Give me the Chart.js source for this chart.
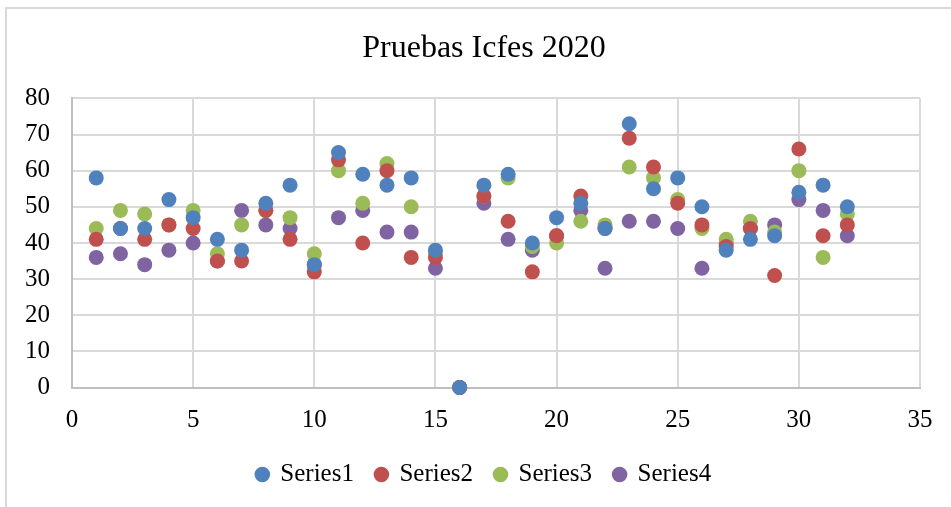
<!DOCTYPE html>
<html>
<head>
<meta charset="utf-8">
<script src="https://cdn.jsdelivr.net/npm/chart.js@4.4.1/dist/chart.umd.min.js"></script>
<style>
  html, body { margin: 0; padding: 0; background: #fff; }
  #wrap { position: relative; width: 951px; height: 507px; overflow: hidden; }
  #frame { position: absolute; left: 5px; top: 7px; width: 960px; height: 520px; border: 2px solid #d9d9d9; box-sizing: border-box; }
  canvas { position: absolute; left: 0; top: 0; }
</style>
</head>
<body>
<div id="wrap">
  <div id="frame"></div>
  <canvas id="c" width="951" height="507"></canvas>
</div>
<script>
const title = "Pruebas Icfes 2020";
const xValues = [1,2,3,4,5,6,7,8,9,10,11,12,13,14,15,16,17,18,19,20,21,22,23,24,25,26,27,28,29,30,31,32];
const series1 = [58,44,44,52,47,41,38,51,56,34,65,59,56,58,38,0,56,59,40,47,51,44,73,55,58,50,38,41,42,54,56,50];
const series2 = [41,44,41,45,44,35,35,49,41,32,63,40,60,36,36,0,53,46,32,42,53,44,69,61,51,45,39,44,31,66,42,45];
const series3 = [44,49,48,45,49,37,45,49,47,37,60,51,62,50,37,0,53,58,39,40,46,45,61,58,52,44,41,46,43,60,36,48];
const series4 = [36,37,34,38,40,35,49,45,44,34,47,49,43,43,33,0,51,41,38,42,49,33,46,46,44,33,40,44,45,52,49,42];
const seriesNames = ["Series1","Series2","Series3","Series4"];
const seriesColors = ["#4F81BD","#C0504D","#9BBB59","#8064A2"];
const xTicks = { min: 0, max: 35, step: 5 };
const yTicks = { min: 0, max: 80, step: 10 };

const allSeries = [series1, series2, series3, series4];
const datasets = allSeries.map((vals, i) => ({
  label: seriesNames[i],
  data: xValues.map((x, j) => ({ x: x, y: vals[j] })),
  backgroundColor: seriesColors[i],
  borderColor: seriesColors[i],
  borderWidth: 0,
  pointRadius: 7.5,
  pointHoverRadius: 7.5,
  clip: false
}));

const FONT = "'Liberation Serif', 'Times New Roman', serif";

new Chart(document.getElementById('c'), {
  type: 'scatter',
  data: { datasets },
  options: {
    responsive: false,
    animation: false,
    layout: { padding: { left: 17, right: 0, top: 0, bottom: 10 } },
    plugins: {
      title: {
        display: true,
        text: title,
        color: '#000',
        font: { family: FONT, size: 32, weight: 'normal' },
        padding: { top: 29, bottom: 31 }
      },
      legend: {
        position: 'bottom',
        labels: {
          usePointStyle: true,
          pointStyle: 'circle',
          boxWidth: 11,
          boxHeight: 11,
          padding: 22,
          color: '#000',
          font: { family: FONT, size: 25 }
        }
      },
      tooltip: { enabled: false }
    },
    scales: {
      x: {
        type: 'linear',
        min: xTicks.min, max: xTicks.max,
        ticks: { stepSize: xTicks.step, color: '#000', font: { family: FONT, size: 25 }, padding: 17.5 },
        grid: { color: '#d9d9d9', lineWidth: 2, drawTicks: false },
        border: { color: '#bfbfbf', width: 2 },
        afterFit: (s) => { s.height = 52.5; }
      },
      y: {
        type: 'linear',
        min: yTicks.min, max: yTicks.max,
        ticks: { stepSize: yTicks.step, color: '#000', font: { family: FONT, size: 25 }, padding: 22 },
        grid: { color: '#d9d9d9', lineWidth: 2, drawTicks: false },
        border: { color: '#bfbfbf', width: 2 },
        afterFit: (s) => { s.width = 55; }
      },
      yRight: {
        type: 'linear',
        position: 'right',
        min: yTicks.min, max: yTicks.max,
        ticks: { display: false },
        grid: { display: false, drawTicks: false },
        border: { display: false },
        afterFit: (s) => { s.width = 31; }
      }
    }
  }
});
</script>
</body>
</html>
